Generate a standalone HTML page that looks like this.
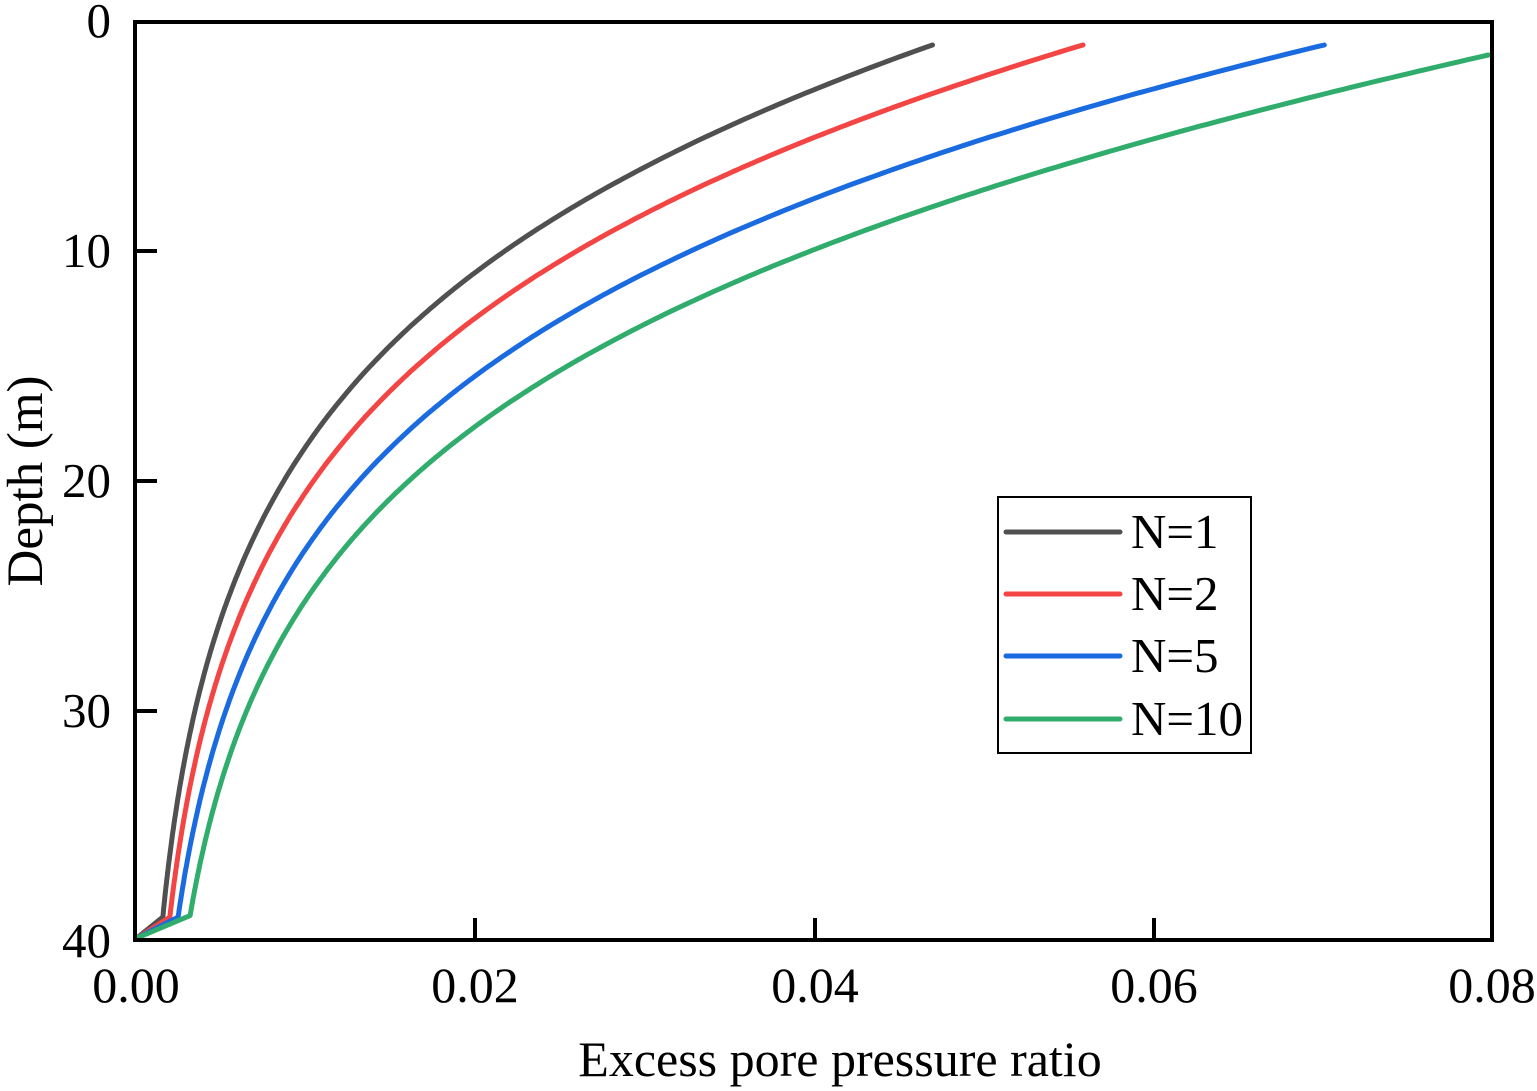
<!DOCTYPE html>
<html><head><meta charset="utf-8"><style>
html,body{margin:0;padding:0;background:#fff;}
svg{display:block;}
text{font-family:"Liberation Serif",serif;fill:#000;}
</style></head><body>
<svg id="s" width="1537" height="1091" viewBox="0 0 1537 1091" xmlns="http://www.w3.org/2000/svg">
<rect x="0" y="0" width="1537" height="1091" fill="#fff"/>
<g id="curves" fill="none" stroke-width="5" stroke-linejoin="round" stroke-linecap="round"></g>
<rect x="135" y="22" width="1357" height="918" fill="none" stroke="#000" stroke-width="4"/>
<g stroke="#000" stroke-width="4">
<line x1="475" y1="940" x2="475" y2="918"/>
<line x1="815" y1="940" x2="815" y2="918"/>
<line x1="1154" y1="940" x2="1154" y2="918"/>
<line x1="135" y1="251" x2="157" y2="251"/>
<line x1="135" y1="481" x2="157" y2="481"/>
<line x1="135" y1="711" x2="157" y2="711"/>
</g>
<g font-size="49" text-anchor="end">
<text x="111" y="37">0</text>
<text x="111" y="267">10</text>
<text x="111" y="497">20</text>
<text x="111" y="727">30</text>
<text x="111" y="957">40</text>
</g>
<g font-size="50" text-anchor="middle">
<text x="136" y="1002">0.00</text>
<text x="475" y="1002">0.02</text>
<text x="815" y="1002">0.04</text>
<text x="1154" y="1002">0.06</text>
<text x="1492" y="1002">0.08</text>
</g>
<text x="840" y="1076" font-size="50" text-anchor="middle">Excess pore pressure ratio</text>
<text transform="translate(42,481) rotate(-90)" font-size="51" text-anchor="middle">Depth (m)</text>
<rect x="998" y="497" width="253" height="256" fill="#fff" stroke="#000" stroke-width="2"/>
<g stroke-width="5" stroke-linecap="round">
<line x1="1006" y1="532" x2="1120" y2="532" stroke="#505050"/>
<line x1="1006" y1="594" x2="1120" y2="594" stroke="#f44545"/>
<line x1="1006" y1="656" x2="1120" y2="656" stroke="#1a6ae0"/>
<line x1="1006" y1="719" x2="1120" y2="719" stroke="#30ac6c"/>
</g>
<g font-size="49">
<text x="1131" y="548">N=1</text>
<text x="1131" y="610">N=2</text>
<text x="1131" y="672">N=5</text>
<text x="1131" y="735">N=10</text>
</g>
</svg>
<script>
function D(y){return (y-22)/22.95;}
var series=[
["#505050",1.0,[[D(45),796],[D(87),690],[D(190),465],[10,372],[15,228],[20,152],[25,97],[30,58],[39,28]]],
["#f44545",1.0,[[D(45),955],[D(130),690],[D(238),465],[15,282],[20,177],[25,117],[30,71],[39,35]]],
["#1a6ae0",1.0,[[D(45),1190],[D(78),1055],[D(118),915],[D(195),690],[D(283),495],[15,358],[20,215],[25,145],[30,91],[39,43]]],
["#30ac6c",D(55),[[D(55),1366],[D(105),1135],[D(167),915],[D(247),690],[D(348),465],[20,272],[25,177],[30,110],[39,55]]]
];
function fit(pts,deg){
 var n=deg+1,A=[],b=[];
 for(var i=0;i<n;i++){A.push(new Array(n).fill(0));b.push(0);}
 pts.forEach(function(p){var z=p[0]/40,v=Math.log(p[1]);
  for(var i=0;i<n;i++){for(var j=0;j<n;j++)A[i][j]+=Math.pow(z,i+j);b[i]+=Math.pow(z,i)*v;}});
 for(var i=0;i<n;i++){var m=i;for(var k=i+1;k<n;k++)if(Math.abs(A[k][i])>Math.abs(A[m][i]))m=k;
  var t=A[i];A[i]=A[m];A[m]=t;t=b[i];b[i]=b[m];b[m]=t;
  for(var k=i+1;k<n;k++){var f=A[k][i]/A[i][i];for(var j=i;j<n;j++)A[k][j]-=f*A[i][j];b[k]-=f*b[i];}}
 var c=new Array(n);
 for(var i=n-1;i>=0;i--){var s=b[i];for(var j=i+1;j<n;j++)s-=A[i][j]*c[j];c[i]=s/A[i][i];}
 return function(z){z/=40;var s=0;for(var i=0;i<n;i++)s+=c[i]*Math.pow(z,i);return Math.exp(s);};
}
var g=document.getElementById("curves");
series.forEach(function(s){
 var f=fit(s[2],3),d="";
 for(var z=s[1];z<=39.0001;z+=0.1){
  var x=Math.min(135+f(z),1490),y=22+z*22.95;
  d+=(d?" L":"M")+x.toFixed(1)+","+y.toFixed(1);
 }
 d+=" L137,938";
 var e=document.createElementNS("http://www.w3.org/2000/svg","path");
 e.setAttribute("d",d);e.setAttribute("stroke",s[0]);g.appendChild(e);
});
</script>
</body></html>
